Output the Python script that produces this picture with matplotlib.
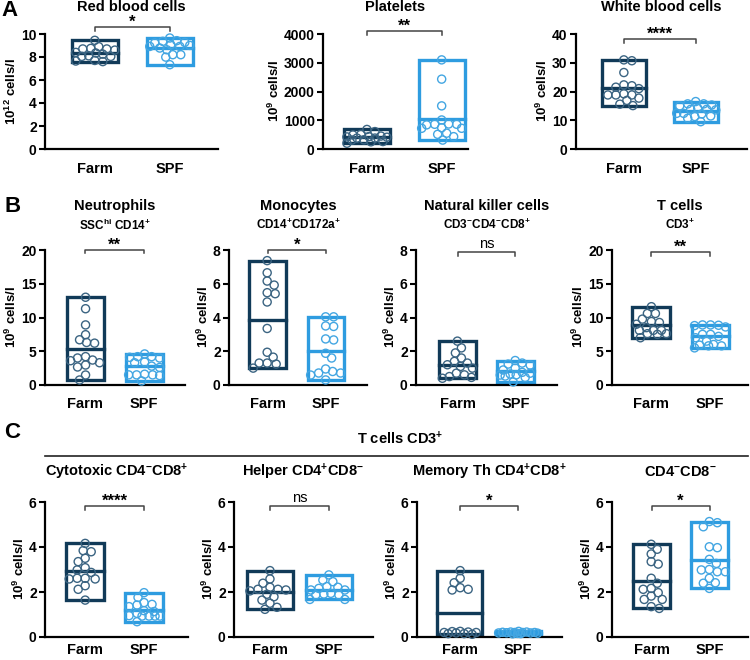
import numpy as np
import matplotlib.pyplot as plt
from matplotlib.lines import Line2D
from matplotlib.transforms import blended_transform_factory

plt.rcParams['font.family'] = ['Liberation Sans', 'DejaVu Sans']
plt.rcParams['font.weight'] = 'bold'
plt.rcParams['mathtext.fontset'] = 'custom'
plt.rcParams['mathtext.bf'] = 'Liberation Sans:bold'
plt.rcParams['mathtext.rm'] = 'Liberation Sans:bold'
plt.rcParams['mathtext.default'] = 'bf'

# данные
groups = ['Farm', 'SPF']

rbc_farm = [9.45, 8.9, 8.7, 8.6, 8.4, 8.7, 8.75, 8.05, 8.05, 8.1, 8.25, 7.7, 7.65, 7.6, 8.35]
rbc_spf = [9.65, 9.27, 9.36, 9.22, 9.42, 9.07, 9.01, 8.92, 8.92, 8.78, 8.63, 8.2, 8.2, 7.99, 7.33]
plt_farm = [680, 605, 510, 490, 450, 430, 420, 410, 380, 380, 320, 310, 260, 250, 200]
plt_spf = [3100, 2430, 1500, 1010, 870, 860, 860, 840, 740, 720, 720, 550, 510, 430, 310]
wbc_farm = [31.0, 30.7, 26.6, 22.3, 22.0, 21.5, 21.0, 19.2, 18.8, 18.8, 18.8, 17.7, 16.9, 15.6, 15.1]
wbc_spf = [16.5, 15.7, 15.7, 15.3, 15.0, 14.2, 13.8, 13.8, 13.6, 12.4, 12.4, 12.2, 11.5, 11.3, 10.7, 9.5]

neu_farm = [13.0, 11.3, 8.9, 7.45, 6.7, 6.3, 6.2, 4.2, 4.0, 3.7, 3.6, 3.3, 2.96, 2.67, 1.48, 0.74]
neu_spf = [4.6, 4.2, 4.2, 4.1, 4.0, 3.4, 3.3, 2.8, 2.6, 1.6, 1.5, 1.5, 1.5, 1.4, 0.6]
mono_farm = [7.37, 6.65, 6.16, 5.92, 5.47, 5.41, 4.92, 3.35, 1.94, 1.65, 1.3, 1.3, 1.24, 1.0]
mono_spf = [4.04, 4.04, 3.5, 3.47, 2.73, 2.67, 1.88, 1.6, 0.95, 0.8, 0.71, 0.71, 0.59, 0.3]
nk_farm = [2.6, 2.2, 1.9, 1.6, 1.4, 1.3, 1.2, 1.1, 1.0, 0.7, 0.6, 0.5, 0.45, 0.4]
nk_spf = [1.45, 1.3, 1.24, 1.18, 1.0, 0.89, 0.75, 0.7, 0.65, 0.6, 0.59, 0.53, 0.45, 0.18]
t_farm = [11.6, 10.6, 10.6, 9.76, 9.4, 9.26, 9.0, 8.5, 8.1, 8.1, 8.1, 7.6, 7.6, 7.5, 7.0]
t_spf = [8.9, 8.9, 8.85, 8.8, 8.6, 7.5, 7.5, 7.2, 7.0, 6.5, 6.0, 5.9, 5.8, 5.8, 5.5]

cyto_farm = [4.16, 3.84, 3.79, 3.5, 3.35, 3.08, 2.98, 2.87, 2.61, 2.61, 2.58, 2.58, 2.28, 2.12, 1.64]
cyto_spf = [1.97, 1.76, 1.53, 1.45, 1.42, 1.35, 1.17, 1.13, 1.05, 0.95, 0.93, 0.93, 0.93, 0.93, 0.68]
helper_farm = [2.95, 2.58, 2.39, 2.21, 2.12, 2.12, 2.09, 2.05, 1.9, 1.79, 1.64, 1.5, 1.32, 1.23]
helper_spf = [2.76, 2.53, 2.46, 2.24, 2.21, 2.16, 2.09, 2.09, 1.94, 1.91, 1.87, 1.87, 1.67, 1.67]
mem_farm = [2.95, 2.61, 2.41, 2.19, 2.12, 2.09, 0.25, 0.24, 0.22, 0.2, 0.2, 0.18, 0.15, 0.15, 0.12]
mem_spf = [0.25, 0.22, 0.22, 0.21, 0.2, 0.2, 0.2, 0.19, 0.18, 0.18, 0.17, 0.16, 0.15, 0.14]
dn_farm = [4.12, 3.9, 3.69, 3.35, 3.24, 2.61, 2.39, 2.16, 2.12, 1.97, 1.82, 1.67, 1.67, 1.35, 1.27]
dn_spf = [5.13, 5.08, 4.9, 4.01, 3.97, 3.45, 3.27, 3.0, 2.98, 2.9, 2.9, 2.61, 2.41, 2.39, 2.16]

titles = ['Red blood cells', 'Platelets', 'White blood cells',
          'Neutrophils', 'Monocytes', 'Natural killer cells', 'T cells',
          'Cytotoxic CD4$^{-}$CD8$^{+}$', 'Helper CD4$^{+}$CD8$^{-}$',
          'Memory Th CD4$^{+}$CD8$^{+}$', 'CD4$^{-}$CD8$^{-}$']
subtitles = ['SSC$^{hi}$ CD14$^{+}$', 'CD14$^{+}$CD172a$^{+}$',
             'CD3$^{-}$CD4$^{-}$CD8$^{+}$', 'CD3$^{+}$']
ylabels = ['10$^{12}$ cells/l'] + ['10$^{9}$ cells/l'] * 10
yticks = [[0, 2, 4, 6, 8, 10], [0, 1000, 2000, 3000, 4000], [0, 10, 20, 30, 40],
          [0, 5, 10, 15, 20], [0, 2, 4, 6, 8], [0, 2, 4, 6, 8], [0, 5, 10, 15, 20],
          [0, 2, 4, 6], [0, 2, 4, 6], [0, 2, 4, 6], [0, 2, 4, 6]]
signif = ['*', '**', '****', '**', '*', 'ns', '**', '****', 'ns', '*', '*']
farm_data = [rbc_farm, plt_farm, wbc_farm, neu_farm, mono_farm, nk_farm, t_farm,
             cyto_farm, helper_farm, mem_farm, dn_farm]
spf_data = [rbc_spf, plt_spf, wbc_spf, neu_spf, mono_spf, nk_spf, t_spf,
            cyto_spf, helper_spf, mem_spf, dn_spf]

# раскладка в пикселях: left, right, top, bottom, xlim, ширина бокса, y скобки
layout = [
    (45, 218, 34, 149, (-0.667, 1.64), 0.62, 27),
    (323, 468, 34, 149, (-0.59, 1.35), 0.62, 31),
    (576, 747, 34, 149, (-0.67, 1.71), 0.62, 39),
    (45, 185, 250, 385, (-0.68, 1.69), 0.63, 250),
    (229, 367, 250, 385, (-0.66, 1.70), 0.63, 250),
    (416, 557, 250, 385, (-0.72, 1.72), 0.63, 252),
    (612, 748, 250, 385, (-0.66, 1.64), 0.63, 252),
    (45, 188, 502, 637, (-0.68, 1.75), 0.64, 506),
    (234, 373, 502, 637, (-0.61, 1.75), 0.78, 506),
    (417, 562, 502, 637, (-0.73, 1.75), 0.77, 506),
    (612, 748, 502, 637, (-0.68, 1.66), 0.63, 506),
]
title_y = [7, 7, 7, 206, 206, 206, 206, 472, 472, 472, 472]

FARM = '#113a58'
FARM_PT = '#3b6482'
SPF = '#2e9ce0'
SPF_PT = '#43a6e2'
W, H = 750, 660


def fx(x):
    return x / W


def fy(y):
    return 1 - y / H


def swarm(ax, x0, values, diam, max_off):
    # простая раскладка точек без перекрытия (в пикселях)
    ys = ax.transData.transform(np.column_stack([np.full(len(values), x0), values]))[:, 1]
    cands = sorted(np.arange(-max_off, max_off + 0.5, 1.0), key=abs)
    placed = []
    offs = np.zeros(len(values))
    for i in np.argsort(-ys):
        best, best_c, best_d = None, 0.0, -1
        for c in cands:
            d = min([np.hypot(c - px, ys[i] - py) for px, py in placed] or [1e9])
            if d >= diam:
                best = c
                break
            if d > best_d:
                best_d, best_c = d, c
        if best is None:
            best = best_c
        placed.append((best, ys[i]))
        offs[i] = best
    p0 = ax.transData.transform([(0, 0), (1, 0)])
    scale = p0[1, 0] - p0[0, 0]
    return x0 + offs / scale


fig = plt.figure(figsize=(7.5, 6.6), dpi=100)

for k in range(11):
    left, right, top, bottom, xlim, bw, by = layout[k]
    ax = fig.add_axes([fx(left), fy(bottom), (right - left) / W, (bottom - top) / H])
    ax.set_xlim(*xlim)
    ax.set_ylim(yticks[k][0], yticks[k][-1])
    ax.set_yticks(yticks[k])
    ax.set_xticks([0, 1])
    ax.set_xticklabels(groups, fontsize=10.5, fontweight='bold')
    ax.set_yticklabels([str(t) for t in yticks[k]], fontsize=10, fontweight='bold')
    ax.tick_params(axis='x', length=0, pad=9 if k < 7 else 4)
    ax.tick_params(axis='y', length=4, width=1.5, pad=2)
    for s in ['top', 'right']:
        ax.spines[s].set_visible(False)
    for s in ['left', 'bottom']:
        ax.spines[s].set_linewidth(1.6)
    ax.set_ylabel(ylabels[k], fontsize=9.5, fontweight='bold', labelpad=1.5)

    for pos, vals, col, pcol in [(0, farm_data[k], FARM, FARM_PT), (1, spf_data[k], SPF, SPF_PT)]:
        vals = np.array(vals)
        lo, hi, mean = vals.min(), vals.max(), vals.mean()
        ax.add_patch(plt.Rectangle((pos - bw / 2, lo), bw, hi - lo, fill=False,
                                   edgecolor=col, lw=2.4, zorder=2))
        ax.plot([pos - bw / 2, pos + bw / 2], [mean, mean], color=col, lw=2.4, zorder=2)
        p = ax.transData.transform([(0, 0), (bw / 2, 0)])
        xs = swarm(ax, pos, vals, 7.4, (p[1, 0] - p[0, 0]) - 3)
        ax.scatter(xs, vals, s=34, facecolors='none', edgecolors=pcol, linewidths=1.0,
                   zorder=3, clip_on=False)

    # скобка значимости
    tr = blended_transform_factory(ax.transData, fig.transFigure)
    yb, yt = fy(by), fy(by + 3.5)
    ax.plot([0, 0, 1, 1], [yt, yb, yb, yt], transform=tr, color='#444444', lw=1.1,
            clip_on=False)
    if signif[k] == 'ns':
        ax.text(0.5, fy(by - 1), 'ns', transform=tr, ha='center', va='bottom',
                fontsize=10.5, fontweight='normal')
    else:
        ax.text(0.5, fy(by + 3), signif[k], transform=tr, ha='center', va='bottom',
                fontsize=12)

    fig.text(fx((left + right) / 2), fy(title_y[k]), titles[k], ha='center', va='center',
             fontsize=10.5)
    if 3 <= k <= 6:
        fig.text(fx((left + right) / 2), fy(225), subtitles[k - 3], ha='center',
                 va='center', fontsize=8.5)

fig.text(fx(10), fy(10), 'A', fontsize=16, ha='center', va='center')
fig.text(fx(13), fy(206), 'B', fontsize=16, ha='center', va='center')
fig.text(fx(12), fy(433), 'C', fontsize=16, ha='center', va='center')

fig.text(fx(400), fy(439), 'T cells CD3$^{+}$', ha='center', va='center', fontsize=10.5)
fig.add_artist(Line2D([fx(45), fx(748)], [fy(456), fy(456)], color='#222222', lw=1.2))

fig.savefig('out.png', dpi=100)
